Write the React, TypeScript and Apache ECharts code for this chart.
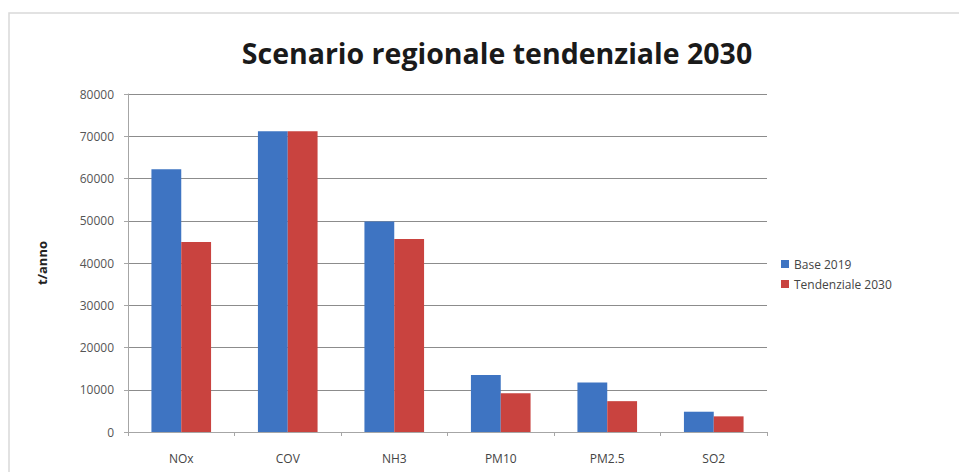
import React, { useEffect, useRef } from "react";
import * as echarts from "echarts";

const categories = ["NOx", "COV", "NH3", "PM10", "PM2.5", "SO2"];
const base2019 = [62200, 71200, 49800, 13500, 11700, 4800];
const tendenziale2030 = [45000, 71200, 45700, 9200, 7300, 3700];
const seriesNames = ["Base 2019", "Tendenziale 2030"];
const titleText = "Scenario regionale tendenziale 2030";
const yAxisName = "t/anno";

export default function App() {
  const ref = useRef<HTMLDivElement>(null);
  useEffect(() => {
    if (!ref.current) return;
    const chart = echarts.init(ref.current, null, { renderer: "svg" });
    chart.setOption({
      animation: false,
      backgroundColor: "#ffffff",
      textStyle: { fontFamily: "Open Sans" },
      graphic: [
        {
          type: "rect",
          shape: { x: 9, y: 13, width: 960, height: 470 },
          style: { fill: "none", stroke: "#d9d9d9", lineWidth: 1.5 },
          silent: true,
        },
      ],
      title: {
        text: titleText,
        left: 492,
        top: 33,
        textAlign: "center",
        textStyle: { fontSize: 28.5, fontWeight: "bold", color: "#1a1a1a", fontFamily: "Open Sans" },
      },
      legend: {
        orient: "vertical",
        left: 776,
        top: 253,
        itemWidth: 8,
        itemHeight: 8,
        itemGap: 8,
        icon: "rect",
        textStyle: { fontSize: 12, color: "#444", fontFamily: "Open Sans" },
        data: seriesNames,
      },
      grid: { left: 128, right: 192, top: 94, bottom: 40 },
      xAxis: {
        type: "category",
        data: categories,
        axisLine: { lineStyle: { color: "#a6a6a6" } },
        axisTick: { show: true, length: 4, lineStyle: { color: "#a6a6a6" } },
        axisLabel: { fontSize: 12, color: "#444", margin: 20 },
      },
      yAxis: {
        type: "value",
        min: 0,
        max: 80000,
        interval: 10000,
        name: yAxisName,
        nameLocation: "middle",
        nameGap: 80,
        nameRotate: 90,
        nameTextStyle: { fontSize: 13, fontWeight: "bold", color: "#222" },
        axisLine: { show: true, lineStyle: { color: "#a6a6a6" } },
        axisTick: { show: true, length: 4, lineStyle: { color: "#a6a6a6" } },
        axisLabel: {
          fontSize: 12,
          color: "#555",
          margin: 14,
          formatter: (v: number) => String(v),
        },
        splitLine: { lineStyle: { color: "#8c8c8c", width: 1 } },
      },
      series: [
        {
          name: seriesNames[0],
          type: "bar",
          data: base2019,
          itemStyle: { color: "#3E74C2" },
          barGap: "0%",
          barCategoryGap: "44%",
        },
        {
          name: seriesNames[1],
          type: "bar",
          data: tendenziale2030,
          itemStyle: { color: "#C9433F" },
          barGap: "0%",
          barCategoryGap: "44%",
        },
      ],
    });
    return () => chart.dispose();
  }, []);
  return (
    <div
      ref={ref}
      style={{ position: "absolute", left: 0, top: 0, width: 959, height: 472 }}
    />
  );
}
